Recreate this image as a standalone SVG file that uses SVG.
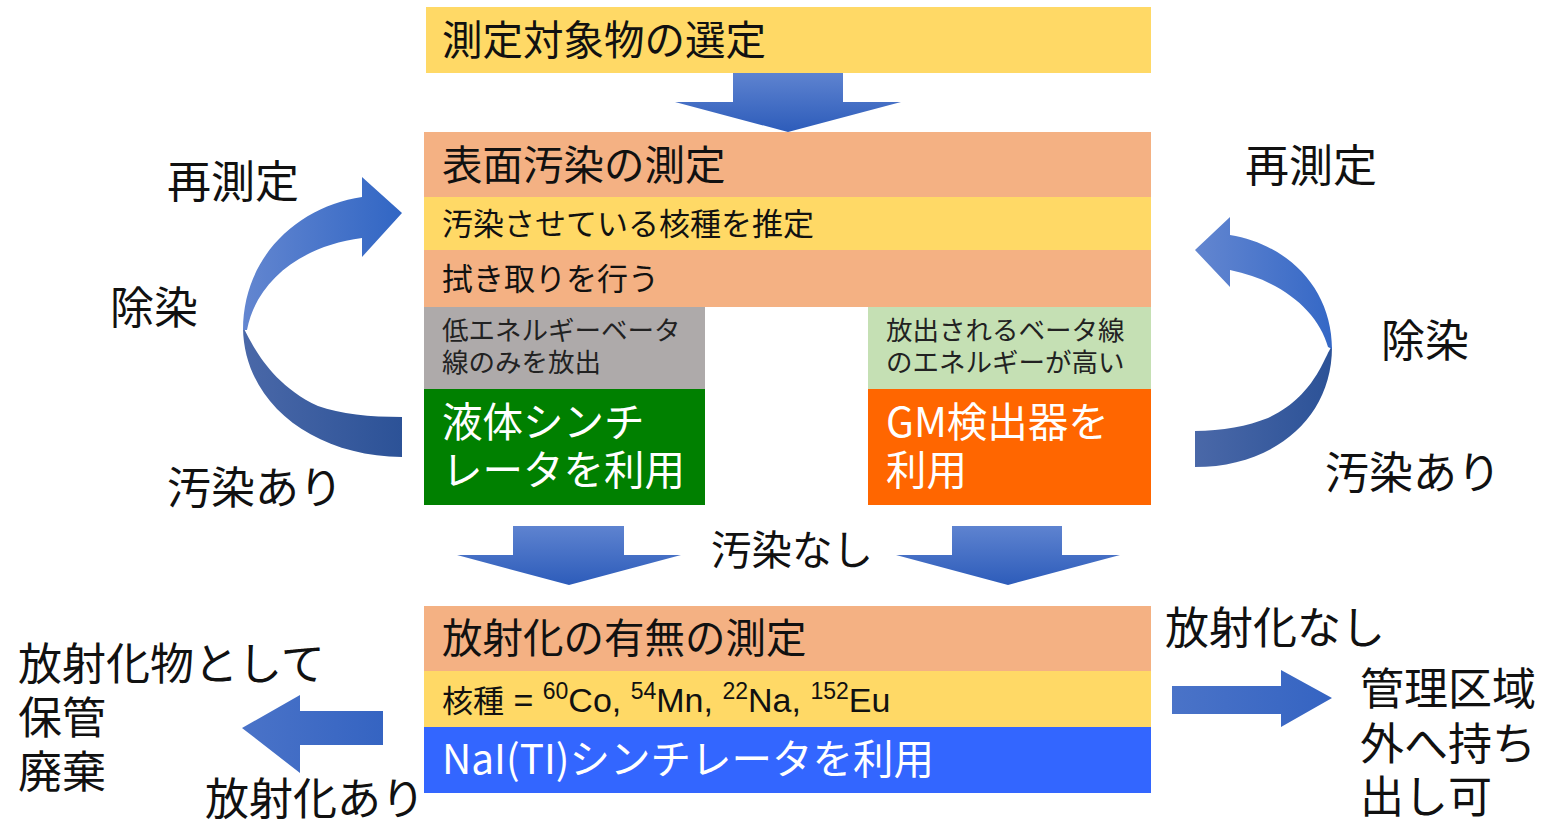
<svg xmlns="http://www.w3.org/2000/svg" width="1545" height="826" viewBox="0 0 1545 826">
<defs>
<linearGradient id="gv" x1="0" y1="0" x2="0" y2="1">
<stop offset="0" stop-color="#5E83D0"/>
<stop offset="1" stop-color="#2D5CBA"/>
</linearGradient>
<linearGradient id="gh" x1="0" y1="0" x2="1" y2="0">
<stop offset="0" stop-color="#4A73C8"/>
<stop offset="1" stop-color="#3564C2"/>
</linearGradient>
<linearGradient id="gUpL" x1="0" y1="0" x2="1" y2="0">
<stop offset="0" stop-color="#6386D0"/>
<stop offset="1" stop-color="#3166C4"/>
</linearGradient>
<linearGradient id="gLoL" x1="0" y1="0" x2="1" y2="0">
<stop offset="0" stop-color="#4A68A8"/>
<stop offset="1" stop-color="#2C5297"/>
</linearGradient>
<linearGradient id="gUpR" x1="0" y1="0" x2="1" y2="0">
<stop offset="0" stop-color="#6386D0"/>
<stop offset="1" stop-color="#3568C6"/>
</linearGradient>
<linearGradient id="gLoR" x1="0" y1="0" x2="1" y2="0">
<stop offset="0" stop-color="#4A68A8"/>
<stop offset="1" stop-color="#2C5297"/>
</linearGradient>
</defs>
<style>
text{font-family:"Noto Sans CJK JP","Noto Sans",sans-serif;fill:#111;}
.b40{font-size:40.5px;}
.b32{font-size:31px;}
.b27{font-size:26.5px;fill:#222;}
.w{fill:#fff;}
.lab{font-size:44px;}
.lat{font-family:"Liberation Sans",Arial,sans-serif;font-size:34px;}
.sup{font-family:"Liberation Sans",Arial,sans-serif;font-size:23px;}
</style>
<rect width="1545" height="826" fill="#fff"/>

<g id="connectors">
<path d="M733,73 H843 V102 H901 L788,132 L675,102 H733 Z" fill="url(#gv)"/>
<path d="M513,526 H624 V555 H681 L569,585 L457,555 H513 Z" fill="url(#gv)"/>
<path d="M952,526 H1062 V555 H1120 L1008,585 L896,555 H952 Z" fill="url(#gv)"/>
<path d="M383,711 V745 H300 V773 L242,728 L300,695 V711 Z" fill="url(#gh)"/>
<path d="M1172,686 H1281 V670 L1332,698 L1281,727 V714 H1172 Z" fill="url(#gh)"/>
<path d="M402,457 C312,456 244,402 243,328 C247,330 262,380 318,406 C340,414 370,417 402,417 Z" fill="url(#gLoL)"/>
<path d="M243,330 C243,255 300,206 362,197 V177 L402,213 L362,257 V238 C300,246 256,282 247,330 Z" fill="url(#gUpL)"/>
<path d="M1195,467 C1272,467 1332,420 1332,347 C1326,350 1318,395 1268,418 C1248,426 1222,431 1195,431 Z" fill="url(#gLoR)"/>
<path d="M1332,349 C1332,290 1290,245 1230,235 V217 L1195,250 L1230,287 V270 C1280,280 1318,310 1328,347 Z" fill="url(#gUpR)"/>
</g>

<g id="n-select">
<rect x="426" y="7" width="725" height="66" fill="#FFD966"/>
<text class="b40" x="442" y="55" font-size="41">測定対象物の選定</text>
</g>

<g id="n-surface">
<rect x="424" y="132" width="727" height="65" fill="#F4B183"/>
<text class="b40" x="442" y="180">表面汚染の測定</text>
<rect x="424" y="197" width="727" height="53" fill="#FFD966"/>
<text class="b32" x="442" y="235">汚染させている核種を推定</text>
<rect x="424" y="250" width="727" height="57" fill="#F4B183"/>
<text class="b32" x="442" y="290">拭き取りを行う</text>
</g>

<g id="n-low">
<rect x="424" y="307" width="281" height="82" fill="#AEAAAA"/>
<text class="b27" x="442" y="340">低エネルギーベータ</text>
<text class="b27" x="442" y="372">線のみを放出</text>
</g>

<g id="n-high">
<rect x="868" y="307" width="283" height="82" fill="#C5E0B4"/>
<text class="b27" x="886" y="340">放出されるベータ線</text>
<text class="b27" x="886" y="372">のエネルギーが高い</text>
</g>

<g id="n-lsc">
<rect x="424" y="389" width="281" height="116" fill="#008000"/>
<text class="b40 w" x="442" y="437">液体シンチ</text>
<text class="b40 w" x="442" y="485">レータを利用</text>
</g>

<g id="n-gm">
<rect x="868" y="389" width="283" height="116" fill="#FF6600"/>
<text class="b40 w" x="886" y="437">GM検出器を</text>
<text class="b40 w" x="886" y="485">利用</text>
</g>

<g id="n-activation">
<rect x="424" y="606" width="727" height="65" fill="#F4B183"/>
<text class="b40" x="442" y="653">放射化の有無の測定</text>
<rect x="424" y="671" width="727" height="56" fill="#FFD966"/>
<text class="b32" x="442" y="712">核種<tspan class="lat"> = </tspan><tspan class="sup" dy="-13">60</tspan><tspan class="lat" dy="13">Co, </tspan><tspan class="sup" dy="-13">54</tspan><tspan class="lat" dy="13">Mn, </tspan><tspan class="sup" dy="-13">22</tspan><tspan class="lat" dy="13">Na, </tspan><tspan class="sup" dy="-13">152</tspan><tspan class="lat" dy="13">Eu</tspan></text>
<rect x="424" y="727" width="727" height="66" fill="#3366FF"/>
<text class="b40 w" x="442" y="774">NaI(TI)シンチレータを利用</text>
</g>

<g id="labels">
<text class="lab" x="167" y="198">再測定</text>
<text class="lab" x="110" y="324">除染</text>
<text class="lab" x="167" y="504">汚染あり</text>
<text class="lab" x="1245" y="182">再測定</text>
<text class="lab" x="1381" y="357">除染</text>
<text class="lab" x="1325" y="489">汚染あり</text>
<text class="b40" x="711" y="565">汚染なし</text>
<text class="lab" x="1165" y="644">放射化なし</text>
<text class="lab" x="1360" y="705">管理区域</text>
<text class="lab" x="1360" y="760">外へ持ち</text>
<text class="lab" x="1360" y="813">出し可</text>
<text class="lab" x="18" y="680">放射化物として</text>
<text class="lab" x="18" y="734">保管</text>
<text class="lab" x="18" y="788">廃棄</text>
<text class="lab" x="205" y="815">放射化あり</text>
</g>
</svg>
